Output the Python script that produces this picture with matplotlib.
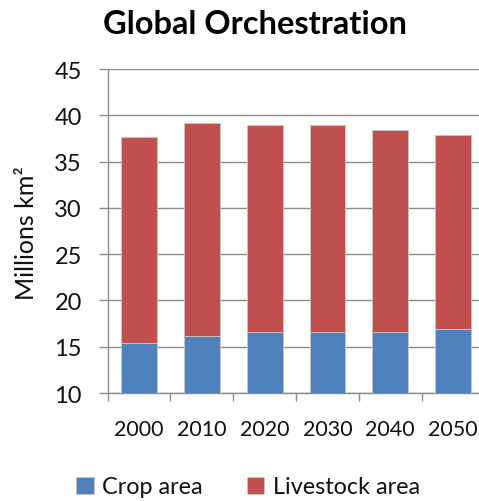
import matplotlib
matplotlib.use("Agg")
import matplotlib.pyplot as plt
import numpy as np

plt.rcParams['font.family'] = ['Lato', 'DejaVu Sans']

# 全球编排情景下的土地面积（百万平方公里）
years = ['2000', '2010', '2020', '2030', '2040', '2050']
crop_area = [15.4, 16.2, 16.6, 16.6, 16.6, 16.9]
livestock_area = [22.3, 23.0, 22.4, 22.3, 21.8, 21.0]

blue = '#4F81BD'
red = '#C0504D'
grid_gray = '#8c8c8c'
text_color = '#111111'

fig = plt.figure(figsize=(4.79, 5.02), dpi=100)
ax = fig.add_axes([0.2248, 0.2151, 0.7866, 0.6454])

x = np.arange(len(years))
w = 0.57
ax.bar(x, crop_area, w, color=blue, edgecolor='#c8c8c8', linewidth=0.6,
       label='Crop area', zorder=3)
ax.bar(x, livestock_area, w, bottom=crop_area, color=red, edgecolor='#c8c8c8',
       linewidth=0.6, label='Livestock area', zorder=3)

ax.set_ylim(10, 45)
ax.set_xlim(-0.5, len(years) - 0.5)
ax.set_yticks(range(10, 46, 5))
ax.yaxis.grid(True, color=grid_gray, linewidth=1.0, zorder=0)
ax.set_axisbelow(True)

# 类别标签不画刻度线，类别之间画短刻度
ax.set_xticks(x)
ax.set_xticklabels(years, fontsize=15.5)
ax.set_xticks(np.arange(-0.5, len(years), 1.0), minor=True)
ax.tick_params(axis='x', which='major', length=0, pad=19, labelcolor=text_color)
ax.tick_params(axis='x', which='minor', length=6, width=1, color=grid_gray)
ax.tick_params(axis='y', length=6.5, width=1, color=grid_gray, pad=12,
               labelsize=17, labelcolor=text_color)

for s in ['top', 'right']:
    ax.spines[s].set_visible(False)
for s in ['left', 'bottom']:
    ax.spines[s].set_color(grid_gray)
    ax.spines[s].set_linewidth(1.0)

fig.text(255 / 479, 1 - 24 / 502, 'Global Orchestration', ha='center',
         va='center', fontsize=23.5, fontweight='bold', color='black')
fig.text(27 / 479, 1 - 233 / 502, 'Millions km²', rotation=90, ha='center',
         va='center', fontsize=18, color=text_color)

fig.legend(loc='center', bbox_to_anchor=(248 / 479, 1 - 488 / 502), ncol=2,
           frameon=False, fontsize=16.8, handlelength=0.75, handleheight=0.75,
           handletextpad=0.35, columnspacing=1.9, labelcolor=text_color)

fig.savefig('out.png', dpi=100)
